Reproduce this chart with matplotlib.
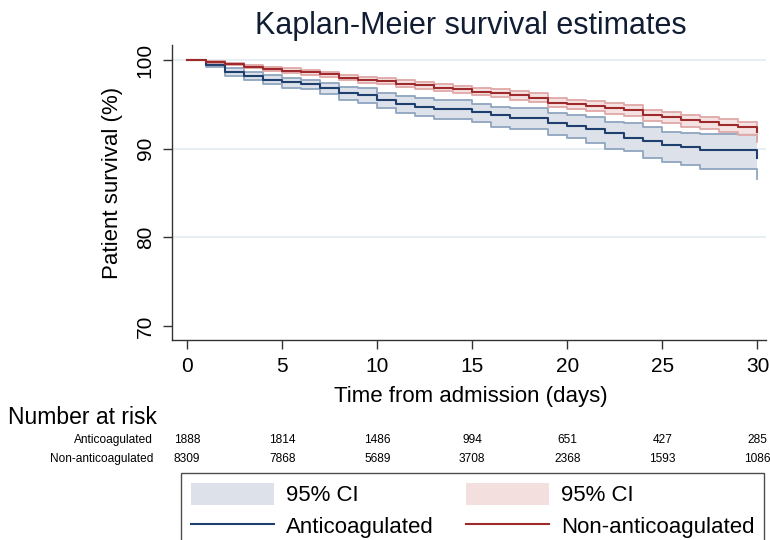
import matplotlib
matplotlib.use("Agg")
from matplotlib import pyplot as plt
from matplotlib import font_manager
from matplotlib.transforms import blended_transform_factory
from matplotlib.patches import Patch
from matplotlib.lines import Line2D

# ---- data ----
days = list(range(0, 31))

anti_surv = [100, 99.45, 98.65, 98.15, 97.8, 97.5, 97.3, 96.8, 96.3, 96.05, 95.5,
             95.05, 94.75, 94.45, 94.45, 94.1, 93.75, 93.5, 93.45, 92.95, 92.6,
             92.2, 91.8, 91.2, 90.9, 90.4, 90.2, 89.9, 89.9, 89.9, 88.9]
anti_hi = [100, 99.65, 99.05, 98.6, 98.3, 98.0, 97.8, 97.4, 97.0, 96.8, 96.25,
           95.9, 95.7, 95.5, 95.5, 95.0, 94.75, 94.55, 94.55, 94.0, 93.8,
           93.6, 93.05, 92.9, 92.5, 91.9, 91.8, 91.6, 91.6, 91.6, 91.0]
anti_lo = [100, 99.2, 98.2, 97.7, 97.3, 96.9, 96.7, 96.2, 95.5, 95.2, 94.6,
           94.0, 93.7, 93.3, 93.3, 93.05, 92.5, 92.2, 92.2, 91.5, 91.2,
           90.6, 90.0, 89.7, 89.0, 88.5, 88.2, 87.7, 87.7, 87.7, 86.6]

non_surv = [100, 99.75, 99.55, 99.25, 99.0, 98.8, 98.6, 98.4, 98.0, 97.8, 97.6,
            97.35, 97.15, 96.9, 96.7, 96.45, 96.25, 96.0, 95.75, 95.2, 95.0,
            94.8, 94.55, 94.35, 93.85, 93.6, 93.2, 93.0, 92.7, 92.4, 91.85]
non_hi = [100, 99.85, 99.7, 99.45, 99.2, 99.05, 98.85, 98.7, 98.3, 98.1, 97.95,
          97.7, 97.5, 97.3, 97.1, 96.9, 96.7, 96.5, 96.25, 95.7, 95.5,
          95.35, 95.15, 94.9, 94.4, 94.15, 93.8, 93.6, 93.3, 93.05, 92.7]
non_lo = [100, 99.65, 99.4, 99.05, 98.8, 98.55, 98.35, 98.1, 97.7, 97.45, 97.25,
          97.0, 96.75, 96.5, 96.3, 96.0, 95.8, 95.5, 95.25, 94.65, 94.45,
          94.25, 93.95, 93.7, 93.1, 92.85, 92.45, 92.2, 91.9, 91.5, 90.75]

risk_days = [0, 5, 10, 15, 20, 25, 30]
risk_anti = [1888, 1814, 1486, 994, 651, 427, 285]
risk_non = [8309, 7868, 5689, 3708, 2368, 1593, 1086]

xticks = [0, 5, 10, 15, 20, 25, 30]
yticks = [70, 80, 90, 100]

# ---- style ----
plt.rcParams['font.family'] = ['Liberation Sans', 'DejaVu Sans']
installed = {f.name for f in font_manager.fontManager.ttflist}
narrow = 'Liberation Sans Narrow' in installed
risk_font = 'Liberation Sans Narrow' if narrow else 'Liberation Sans'
risk_size = 10.7 if narrow else 8.6
head_size = 20 if narrow else 16.5

navy = '#1f3f6e'
navy_ci = '#8fa6bf'
navy_fill = '#dde1e9'
maroon = '#9e2a2b'
maroon_ci = '#e0a8a8'
maroon_fill = '#f4dfdf'

fig = plt.figure(figsize=(7.7, 5.4), dpi=100)
ax = fig.add_axes([172 / 770, 1 - 340 / 540, (766 - 172) / 770, (340 - 45) / 540])

ax.fill_between(days, anti_lo, anti_hi, step='post', color=navy_fill, lw=0, zorder=1)
ax.step(days, anti_hi, where='post', color=navy_ci, lw=1.3, zorder=2)
ax.step(days, anti_lo, where='post', color=navy_ci, lw=1.3, zorder=2)

ax.fill_between(days, non_lo, non_hi, step='post', color=maroon_fill, alpha=0.85, lw=0, zorder=3)
ax.step(days, non_hi, where='post', color=maroon_ci, lw=1.3, zorder=4)
ax.step(days, non_lo, where='post', color=maroon_ci, lw=1.3, zorder=4)

ax.step(days, anti_surv, where='post', color=navy, lw=1.5, zorder=5)
ax.step(days, non_surv, where='post', color=maroon, lw=1.5, zorder=6)

ax.set_xlim(-0.8, 30.45)
ax.set_ylim(68.4, 101.7)
ax.set_xticks(xticks)
ax.set_yticks(yticks)
for y in [80, 90, 100]:
    ax.axhline(y, color='#e3ecf1', lw=1.2, zorder=0)

for s in ['top', 'right']:
    ax.spines[s].set_visible(False)
for s in ['left', 'bottom']:
    ax.spines[s].set_color('#333333')
    ax.spines[s].set_linewidth(1.0)
ax.tick_params(axis='both', direction='out', length=6.5, width=1.0, color='#333333',
               labelsize=15, pad=6)
for lab in ax.get_yticklabels():
    lab.set_rotation(90)
    lab.set_va('center')

ax.set_xlabel('Time from admission (days)', fontsize=16, va='center')
ax.xaxis.set_label_coords(0.503, -0.193)
ax.set_ylabel('Patient survival (%)', fontsize=16, va='center')
ax.yaxis.set_label_coords(-0.101, 0.532)

fig.text(471 / 770, 1 - 26 / 540, 'Kaplan-Meier survival estimates', fontsize=22,
         color='#111d33', ha='center', va='center')

# number at risk table
tr = blended_transform_factory(ax.transData, fig.transFigure)
fig.text(8 / 770, 1 - 418 / 540, 'Number at risk', fontsize=head_size, family=risk_font,
         ha='left', va='center')
row_y = [1 - 440 / 540, 1 - 459 / 540]
fig.text(153 / 770, row_y[0], 'Anticoagulated', fontsize=risk_size, family=risk_font,
         ha='right', va='center')
fig.text(153 / 770, row_y[1], 'Non-anticoagulated', fontsize=risk_size, family=risk_font,
         ha='right', va='center')
for d, a, n in zip(risk_days, risk_anti, risk_non):
    ax.text(d, row_y[0], str(a), transform=tr, fontsize=risk_size, family=risk_font,
            ha='center', va='center')
    ax.text(d, row_y[1], str(n), transform=tr, fontsize=risk_size, family=risk_font,
            ha='center', va='center')

# legend
handles = [Patch(facecolor=navy_fill, edgecolor='none'),
           Line2D([], [], color=navy, lw=1.5),
           Patch(facecolor=maroon_fill, edgecolor='none'),
           Line2D([], [], color=maroon, lw=1.5)]
labels = ['95% CI', 'Anticoagulated', '95% CI', 'Non-anticoagulated']
leg = fig.legend(handles, labels, loc='upper left', bbox_to_anchor=(181 / 770, 1 - 473 / 540),
                 ncol=2, fontsize=16, frameon=True, fancybox=False, borderaxespad=0,
                 handlelength=3.74, handleheight=1.13, handletextpad=0.54,
                 columnspacing=1.44, labelspacing=0.38, borderpad=0.45)
leg.get_frame().set_edgecolor('#222222')
leg.get_frame().set_linewidth(1.0)

fig.savefig('out.png', dpi=100)
